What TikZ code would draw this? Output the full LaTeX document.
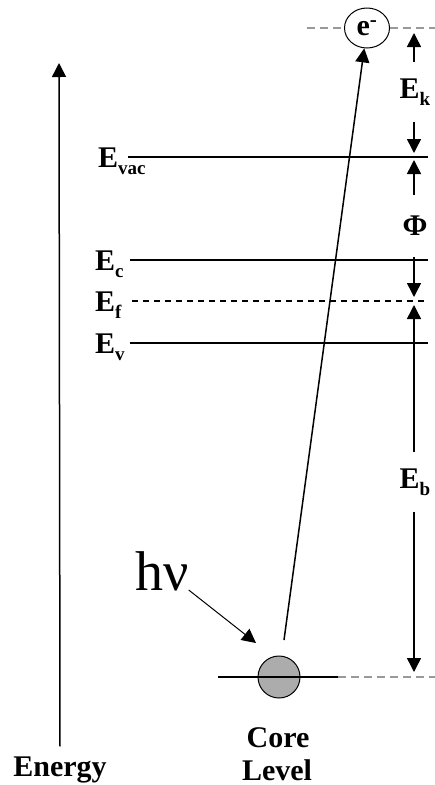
\documentclass[tikz,border=0pt]{standalone}
\usepackage{fontspec}
\setmainfont{Liberation Serif}
\usetikzlibrary{arrows.meta,shapes.geometric}

\newcommand{\Esub}[1]{E\raisebox{-7pt}{\fontsize{19}{19}\selectfont #1}}

\begin{document}
\begin{tikzpicture}[x=1pt,y=-1pt,
    lbl/.style={font=\fontsize{30}{32}\selectfont\bfseries, inner sep=0pt},
    big/.style={font=\fontsize{30}{32}\selectfont\bfseries, inner sep=0pt},
    arr/.style={line width=1.5pt, -{Triangle[length=14pt,width=14pt]}},
    level/.style={line width=1.4pt},
    guide/.style={gray!80, line width=1.2pt, dash pattern=on 8pt off 5pt}]
    \useasboundingbox (0,0) rectangle (435,785);

    % energy axis
    \node[big, anchor=base, outer sep=10pt] (energy) at (60,776) {Energy};
    \coordinate (etop) at (59,63);
    \draw[arr] (energy.north) -- (etop);

    % levels
    \node[lbl, anchor=base west] (evac) at (98,167) {\Esub{vac}};
    \node[lbl, anchor=base west] (ec) at (95,270) {\Esub{c}};
    \node[lbl, anchor=base west] (ef) at (95,311) {\Esub{f}};
    \node[lbl, anchor=base west] (ev) at (95,353) {\Esub{v}};
    \draw[level] (128,157) -- (428,157);
    \draw[level] (130,260) -- (428,260);
    \draw[level, dash pattern=on 6pt off 5pt] (132,301) -- (428,301);
    \draw[level] (130,343) -- (428,343);

    % electron
    \node[ellipse, draw, line width=1pt, minimum width=45pt, minimum height=40pt, inner sep=0pt,
          font=\fontsize{30}{30}\selectfont\bfseries] (elec) at (367,28) {e\textsuperscript{-}};
    \draw[guide] (307,28) -- (elec.west);
    \draw[guide] (elec.east) -- (435,28);

    % core level
    \node[circle, draw, line width=1pt, fill=gray!65, minimum size=42pt] (core) at (279,677) {};
    \draw[level] (218,677) -- (338,677);
    \draw[guide] (338,677) -- (435,677);
    \node[big, anchor=base] (corelbl) at (278,747) {Core};
    \node[big, anchor=base] (levellbl) at (277,780) {Level};

    % photoemission
    \coordinate (phstart) at (284,640);
    \draw[arr] (phstart) -- (elec);
    \node[anchor=base west, inner sep=0pt, font=\fontsize{56}{56}\selectfont] (hv) at (135,590) {hν};
    \coordinate (hvtip) at (256,643);
    \draw[arr, line width=1pt] (hv.base east) -- (hvtip);

    % energy differences
    \node[lbl, minimum height=60pt] (ek) at (415,92) {\Esub{k}};
    \node[lbl, minimum height=62pt] (phi) at (415,226) {Φ};
    \node[lbl, minimum height=60pt] (eb) at (415,482) {\Esub{b}};
    \coordinate (ekup) at (414,33);
    \coordinate (ekdn) at (414,153);
    \coordinate (phiup) at (414,160);
    \coordinate (phidn) at (414,297);
    \coordinate (ebup) at (414,305);
    \coordinate (ebdn) at (414,672);
    \draw[arr] (ek.north -| ekup) -- (ekup);
    \draw[arr] (ek.south -| ekdn) -- (ekdn);
    \draw[arr] (phi.north -| phiup) -- (phiup);
    \draw[arr] (phi.south -| phidn) -- (phidn);
    \draw[arr] (eb.north -| ebup) -- (ebup);
    \draw[arr] (eb.south -| ebdn) -- (ebdn);
\end{tikzpicture}
\end{document}
